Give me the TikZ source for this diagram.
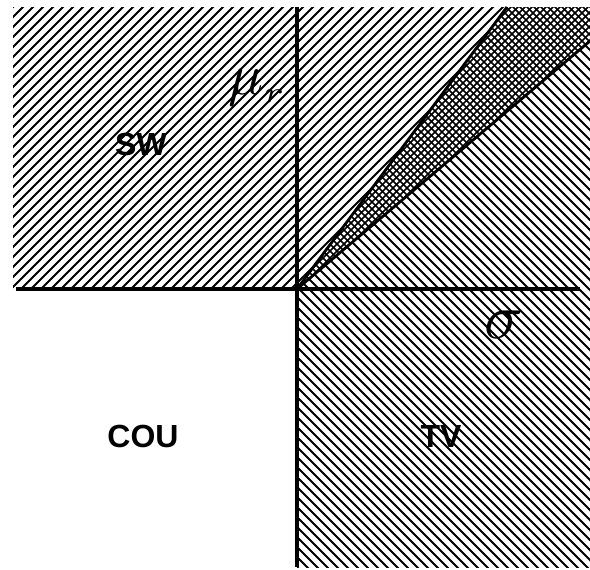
\documentclass[tikz,border=0pt]{standalone}
\usepackage{fontspec}
\setmainfont{Liberation Sans}
\begin{document}
\begin{tikzpicture}[x=1pt,y=-1pt,
  hatch/.style={line width=2.1pt,line cap=butt},
  xhatch/.style={line width=1.5pt},
  axis/.style={line width=3.4pt},
  bound/.style={line width=2.8pt},
  region/.style={font=\fontsize{32}{36}\selectfont\bfseries}]
\useasboundingbox (0,0) rectangle (590,570);
\coordinate (O) at (297,289);
\coordinate (T) at (297,7);
\coordinate (B) at (297,567);
\coordinate (Lf) at (16,289);
\coordinate (Rt) at (580,289);
\coordinate (U) at (507,7);
\coordinate (L) at (590,41);
% SW quadrant: NE lines
\begin{scope}
  \clip (13,7) rectangle (O);
  \foreach \c in {-600,-590,...,600} \draw[hatch] (\c,600) -- ++(600,-600);
\end{scope}
% above upper line: NE lines
\begin{scope}
  \clip (O) -- (T) -- (U) -- cycle;
  \foreach \c in {-300,-290,...,600} \draw[hatch] (\c,600) -- ++(600,-600);
\end{scope}
% between lines: crosshatch
\begin{scope}
  \clip (O) -- (U) -- (590,7) -- (L) -- cycle;
  \foreach \c in {-600,-593,...,600} {
    \draw[xhatch] (\c,600) -- ++(600,-600);
    \draw[xhatch] (\c,0) -- ++(600,600);
  }
\end{scope}
% below lower line: NW lines
\begin{scope}
  \clip (O) -- (L) -- (590,289) -- cycle;
  \foreach \c in {-300,-290,...,600} \draw[hatch] (\c,0) -- ++(600,600);
\end{scope}
% TV quadrant: NW lines
\begin{scope}
  \clip (O) rectangle (590,567);
  \foreach \c in {-300,-290,...,600} \draw[hatch] (\c,0) -- ++(600,600);
\end{scope}
% boundary lines
\draw[bound] (O) -- (U);
\draw[bound] (O) -- (L);
% axes
\draw[axis] (Lf) -- (Rt);
\draw[axis] (T) -- (B);
% labels
\node[region] (sw) at (141,144) {SW};
\node[region] (cou) at (143,436) {COU};
\node[region] (tv) at (441,436) {TV};
\node[anchor=base west,scale=5.8,inner sep=0pt] (mu) at (227,94) {$\mu_{\scriptscriptstyle r}$};
\node[anchor=base,scale=6.4,inner sep=0pt] (sigma) at (504,338) {$\sigma$};
\end{tikzpicture}
\end{document}
